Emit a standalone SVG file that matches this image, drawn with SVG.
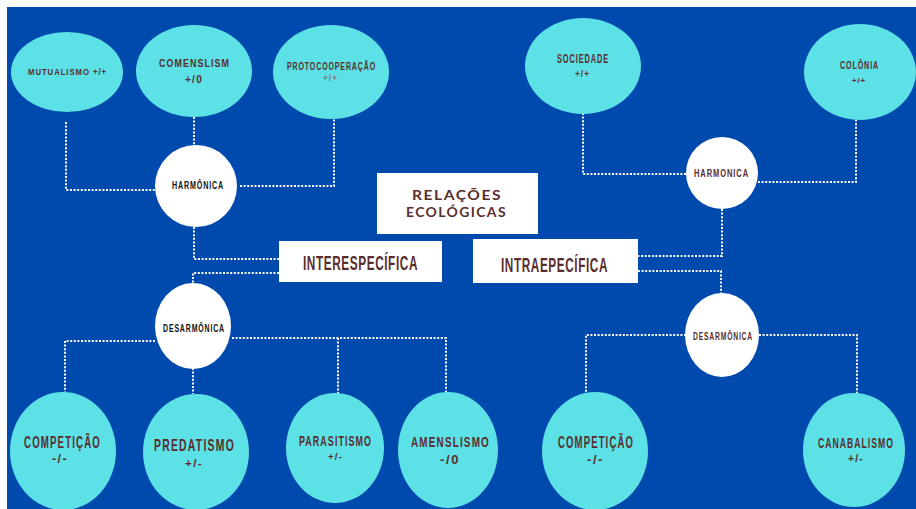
<svg xmlns="http://www.w3.org/2000/svg" width="916" height="509" viewBox="0 0 916 509">
<style>
.cy{fill:#5ce1e6}
.wh{fill:#ffffff}
.t{font-family:"Liberation Sans",Arial,sans-serif;font-weight:bold;fill:#5a2d2d;letter-spacing:0.12em}
.w{letter-spacing:0.05em}
.k{fill:#111111}
.lt{fill:#8c7676}
.r{font-family:Lato,"Open Sans","Liberation Sans",sans-serif;font-weight:bold;fill:#5a2d2d;letter-spacing:0.1em}
.c{fill:none;stroke:#ffffff;stroke-width:2;stroke-dasharray:2 1.6}
</style>
<rect x="0" y="0" width="916" height="509" fill="#ffffff"/>
<rect x="7" y="7" width="909" height="502" fill="#004aad"/>

<g id="connectors">
<path class="c" d="M66 122 V190 H155"/>
<path class="c" d="M194 117 V145"/>
<path class="c" d="M240 186 H334 V118"/>
<path class="c" d="M194 227 V259 H279"/>
<path class="c" d="M279 273 H193 V283"/>
<path class="c" d="M155 341 H65 V392"/>
<path class="c" d="M193 368 V394"/>
<path class="c" d="M232 338 H446 V392"/>
<path class="c" d="M338 338 V394"/>
<path class="c" d="M583 113 V174 H686"/>
<path class="c" d="M758 182 H856 V120"/>
<path class="c" d="M722 209 V256 H638"/>
<path class="c" d="M638 271 H721 V293"/>
<path class="c" d="M686 335 H586 V392"/>
<path class="c" d="M759 335 H857 V394"/>
</g>

<g id="mutualismo">
<ellipse class="cy" cx="67" cy="72" rx="56" ry="40"/>
<text class="t" transform="translate(28 75) scale(1 1.26)" font-size="7.76" textLength="79" lengthAdjust="spacingAndGlyphs">MUTUALISMO +/+</text>
</g>
<g id="comenslism">
<ellipse class="cy" cx="194" cy="71" rx="58" ry="46"/>
<text class="t" transform="translate(159 67) scale(1 1.33)" font-size="8.9" textLength="71" lengthAdjust="spacingAndGlyphs">COMENSLISM</text>
<text class="t" transform="translate(185 83) scale(1 1.1)" font-size="10.1" textLength="18" lengthAdjust="spacingAndGlyphs">+/0</text>
</g>
<g id="protocooperacao">
<ellipse class="cy" cx="331" cy="72" rx="58" ry="47"/>
<text class="t" transform="translate(287 70) scale(1 1.59)" font-size="7.04" textLength="89" lengthAdjust="spacingAndGlyphs">PROTOCOOPERAÇÃO</text>
<text class="t lt" x="323" y="81" font-size="8.3" textLength="15" lengthAdjust="spacingAndGlyphs">+/+</text>
</g>
<g id="sociedade">
<ellipse class="cy" cx="583" cy="66" rx="58" ry="48"/>
<text class="t" transform="translate(557 63) scale(1 1.7)" font-size="7.4" textLength="52" lengthAdjust="spacingAndGlyphs">SOCIEDADE</text>
<text class="t" x="575" y="77" font-size="8.3" textLength="15" lengthAdjust="spacingAndGlyphs">+/+</text>
</g>
<g id="colonia">
<ellipse class="cy" cx="860" cy="72" rx="56" ry="48"/>
<text class="t" transform="translate(840 69) scale(1 1.56)" font-size="7.15" textLength="39" lengthAdjust="spacingAndGlyphs">COLÔNIA</text>
<text class="t" x="852" y="83" font-size="7.75" textLength="14" lengthAdjust="spacingAndGlyphs">+/+</text>
</g>

<g id="harmonica-inter">
<circle class="wh" cx="196" cy="186" r="41"/>
<text class="t k" transform="translate(172 189) scale(1 1.57)" font-size="7.14" textLength="52" lengthAdjust="spacingAndGlyphs">HARMÔNICA</text>
</g>
<g id="harmonica-intra">
<circle class="wh" cx="722" cy="173" r="36"/>
<text class="t" transform="translate(694 177) scale(1 1.48)" font-size="7.55" textLength="55" lengthAdjust="spacingAndGlyphs">HARMONICA</text>
</g>

<g id="relacoes">
<rect class="wh" x="377" y="173" width="161" height="61"/>
<text class="r" x="412" y="200" font-size="13" textLength="90" lengthAdjust="spacingAndGlyphs">RELAÇÕES</text>
<text class="r" x="406" y="217" font-size="13" textLength="101" lengthAdjust="spacingAndGlyphs">ECOLÓGICAS</text>
</g>
<g id="interespecifica">
<rect class="wh" x="279" y="241" width="163" height="41"/>
<text class="t w" transform="translate(303 270) scale(1 1.78)" font-size="11.8" textLength="115" lengthAdjust="spacingAndGlyphs">INTERESPECÍFICA</text>
</g>
<g id="intraepecifica">
<rect class="wh" x="473" y="239" width="165" height="44"/>
<text class="t w" transform="translate(501 272) scale(1 1.78)" font-size="11.77" textLength="107" lengthAdjust="spacingAndGlyphs">INTRAEPECÍFICA</text>
</g>

<g id="desarmonica-inter">
<ellipse class="wh" cx="193" cy="326" rx="38" ry="43"/>
<text class="t k" transform="translate(163 332) scale(1 1.6)" font-size="6.99" textLength="62" lengthAdjust="spacingAndGlyphs">DESARMÔNICA</text>
</g>
<g id="desarmonica-intra">
<ellipse class="wh" cx="722" cy="335" rx="37" ry="42"/>
<text class="t" transform="translate(693 340) scale(1 1.65)" font-size="6.76" textLength="60" lengthAdjust="spacingAndGlyphs">DESARMÔNICA</text>
</g>

<g id="competicao-inter">
<ellipse class="cy" cx="63" cy="451" rx="53" ry="59"/>
<text class="t" transform="translate(24 448) scale(1 1.74)" font-size="9.65" textLength="77" lengthAdjust="spacingAndGlyphs">COMPETIÇÃO</text>
<text class="t" x="52" y="463" font-size="12.3" textLength="16" lengthAdjust="spacingAndGlyphs">-/-</text>
</g>
<g id="predatismo">
<ellipse class="cy" cx="196" cy="452" rx="53" ry="58"/>
<text class="t" transform="translate(154 451) scale(1 1.63)" font-size="10.3" textLength="81" lengthAdjust="spacingAndGlyphs">PREDATISMO</text>
<text class="t" x="185" y="467" font-size="11.6" textLength="18" lengthAdjust="spacingAndGlyphs">+/-</text>
</g>
<g id="parasitismo">
<ellipse class="cy" cx="335" cy="448" rx="49" ry="55"/>
<text class="t" transform="translate(299 446) scale(1 1.74)" font-size="8.83" textLength="73" lengthAdjust="spacingAndGlyphs">PARASITISMO</text>
<text class="t" x="328" y="460" font-size="9.6" textLength="15" lengthAdjust="spacingAndGlyphs">+/-</text>
</g>
<g id="amenslismo">
<ellipse class="cy" cx="448" cy="450" rx="50" ry="58"/>
<text class="t" transform="translate(411 447) scale(1 1.55)" font-size="9.9" textLength="79" lengthAdjust="spacingAndGlyphs">AMENSLISMO</text>
<text class="t" x="440" y="464" font-size="13.1" textLength="20" lengthAdjust="spacingAndGlyphs">-/0</text>
</g>
<g id="competicao-intra">
<ellipse class="cy" cx="595" cy="451" rx="53" ry="59"/>
<text class="t" transform="translate(558 448) scale(1 1.74)" font-size="9.53" textLength="76" lengthAdjust="spacingAndGlyphs">COMPETIÇÃO</text>
<text class="t" x="587" y="464" font-size="13" textLength="17" lengthAdjust="spacingAndGlyphs">-/-</text>
</g>
<g id="canabalismo">
<ellipse class="cy" cx="854" cy="450" rx="51" ry="57"/>
<text class="t" transform="translate(818 448) scale(1 1.62)" font-size="8.62" textLength="76" lengthAdjust="spacingAndGlyphs">CANABALISMO</text>
<text class="t" x="848" y="462" font-size="10.3" textLength="16" lengthAdjust="spacingAndGlyphs">+/-</text>
</g>
</svg>
